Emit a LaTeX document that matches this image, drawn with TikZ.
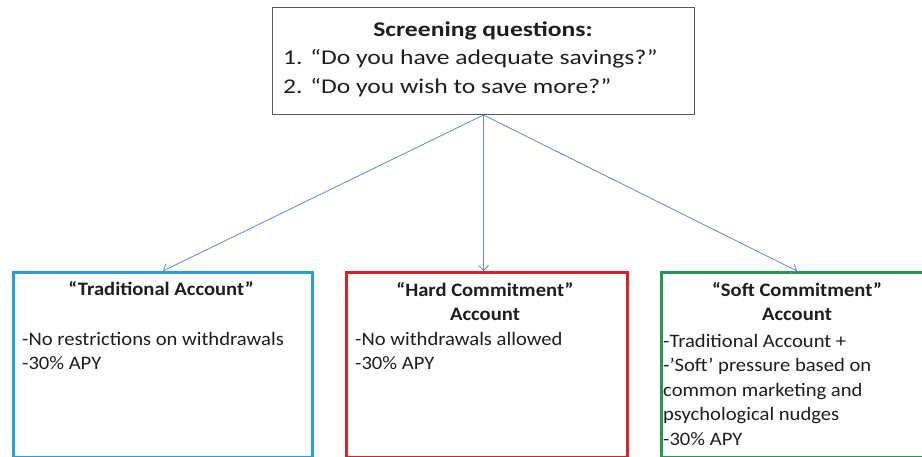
\documentclass[tikz,border=0pt]{standalone}
\usepackage{fontspec}
\setmainfont{Carlito}
\newfontfamily\screenfont{Carlito}[FakeStretch=1.22]
\newfontfamily\acctfont{Carlito}[FakeStretch=1.085]
\usetikzlibrary{arrows.meta,positioning}
\definecolor{linkblue}{RGB}{105,140,185}
\definecolor{tradblue}{RGB}{40,160,215}
\definecolor{hardred}{RGB}{215,35,40}
\definecolor{softgreen}{RGB}{40,150,80}
\definecolor{inktext}{RGB}{30,30,30}
\tikzset{
  acctbox/.style={draw,line width=3pt,anchor=north west,minimum height=185pt,inner sep=0pt},
  acctitle/.style={font=\acctfont\fontsize{19}{24.5}\selectfont\bfseries,align=center,anchor=base,inner sep=0pt,text=inktext},
  acctext/.style={font=\acctfont\fontsize{19}{24.5}\selectfont,align=left,anchor=base west,inner sep=0pt,text=inktext},
  link/.style={->,linkblue,line width=0.8pt}
}
\begin{document}
\begin{tikzpicture}[x=1pt,y=-1pt,>={Straight Barb[length=5pt,width=10pt]}]
  \useasboundingbox[fill=white] (0,0) rectangle (922,457);
  % screening box
  \node[draw=black!65,line width=1pt,anchor=north west,minimum width=422pt,minimum height=107pt] (screen) at (272,7) {};
  \node[font=\screenfont\fontsize{21}{29.5}\selectfont\bfseries,anchor=base,inner sep=0pt,text=inktext] (stitle) at (483,37) {Screening questions:};
  \node[font=\screenfont\fontsize{21}{29.5}\selectfont,align=left,anchor=base west,inner sep=0pt,text=inktext] (squest) at (283,94) {1. “Do you have adequate savings?”\\2. “Do you wish to save more?”};
  % account boxes
  \node[acctbox,draw=tradblue,minimum width=299pt] (trad) at (12,271) {};
  \node[acctbox,draw=hardred,minimum width=281pt] (hard) at (345,271) {};
  \node[acctbox,draw=softgreen,minimum width=275pt] (soft) at (660,271) {};
  \node[acctitle] (tradtitle) at (161,296) {“Traditional Account”};
  \node[acctext] (tradtext) at (22,370) {-No restrictions on withdrawals\\-30\% APY};
  \node[acctitle] (hardtitle) at (485,321) {“Hard Commitment”\\Account};
  \node[acctext] (hardtext) at (355,370) {-No withdrawals allowed\\-30\% APY};
  \node[acctitle] (softtitle) at (797,321) {“Soft Commitment”\\Account};
  \node[acctext] (softtext) at (663,445) {-Traditional Account +\\-’Soft’ pressure based on\\common marketing and\\psychological nudges\\-30\% APY};
  % arrows
  \draw[link] (screen.south) -- (trad.north);
  \draw[link] (screen.south) -- (screen.south |- hard.north);
  \draw[link] (screen.south) -- ([xshift=-2pt]soft.north);
\end{tikzpicture}
\end{document}
